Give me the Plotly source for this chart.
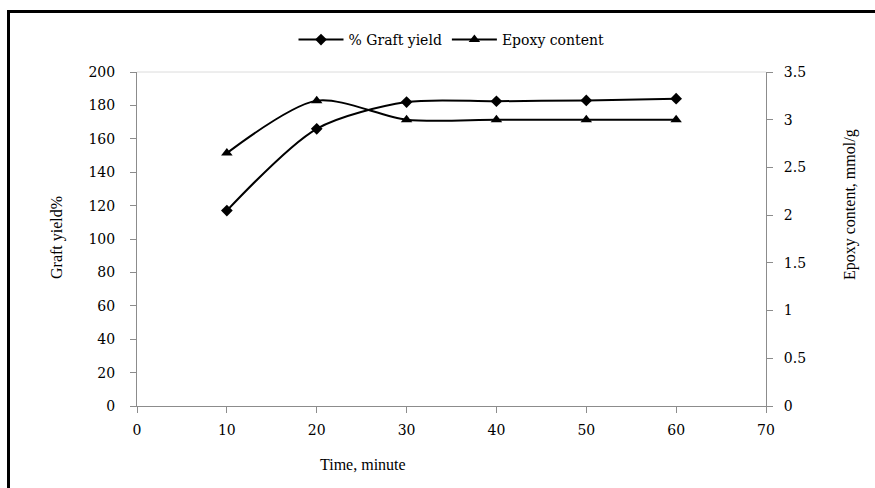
import plotly.graph_objects as go

# Reaction time (minutes) and measured responses
time_min = [10, 20, 30, 40, 50, 60]
graft_yield = [117, 166, 182, 182.5, 183, 184]
epoxy_content = [2.65, 3.2, 3.0, 3.0, 3.0, 3.0]

x_ticks = [0, 10, 20, 30, 40, 50, 60, 70]
y1_ticks = [0, 20, 40, 60, 80, 100, 120, 140, 160, 180, 200]
y2_ticks = [0, 0.5, 1, 1.5, 2, 2.5, 3, 3.5]

FONT = "Liberation Serif, Times New Roman, serif"
WIDE_FONT = "DejaVu Serif, serif"
AXIS_GRAY = "#8c8c8c"

# plot area in pixels
L, R, T, B = 137, 766, 72, 406
W, H = R - L, B - T


def px_x(px):
    return (px - L) / W


def px_y(py):
    return (B - py) / H


fig = go.Figure()
fig.add_trace(go.Scatter(
    x=time_min, y=graft_yield, name="% Graft yield",
    mode="lines+markers",
    line=dict(color="black", width=2, shape="spline", smoothing=0.8),
    marker=dict(symbol="diamond", size=9, color="black"),
))
fig.add_trace(go.Scatter(
    x=time_min, y=epoxy_content, name="Epoxy content", yaxis="y2",
    mode="lines+markers",
    line=dict(color="black", width=2, shape="spline", smoothing=0.8),
    marker=dict(symbol="triangle-up", size=10, color="black"),
))

axis_common = dict(
    showline=True, linecolor=AXIS_GRAY, linewidth=1,
    ticks="outside", tickcolor=AXIS_GRAY, ticklen=6,
    showgrid=False, zeroline=False,
    tickfont=dict(family=WIDE_FONT, size=14, color="black"),
)

fig.update_layout(
    width=875, height=488,
    margin=dict(l=L, r=875 - R, t=T, b=488 - B, autoexpand=False),
    paper_bgcolor="white", plot_bgcolor="white",
    font=dict(family=FONT, color="black"),
    showlegend=True,
    legend=dict(
        orientation="h", x=0.5, xanchor="center",
        y=px_y(40), yanchor="middle",
        font=dict(family=WIDE_FONT, size=14),
        bgcolor="rgba(0,0,0,0)", itemwidth=45,
    ),
    xaxis=dict(range=[0, 70], tickvals=x_ticks, ticklabelstandoff=5, **axis_common),
    yaxis=dict(range=[0, 200], tickvals=y1_ticks, ticklabelstandoff=12, **axis_common),
    yaxis2=dict(range=[0, 3.5], tickvals=y2_ticks, overlaying="y", side="right",
                ticklabelstandoff=8, **axis_common),
)

# Axis titles
title_font = dict(family=FONT, size=16)
fig.add_annotation(text="Time, minute", xref="paper", yref="paper",
                   x=px_x(363), y=px_y(465), xanchor="center", yanchor="middle",
                   showarrow=False, font=title_font)
fig.add_annotation(text="Graft yield%", xref="paper", yref="paper",
                   x=px_x(57), y=px_y(238), xanchor="center", yanchor="middle",
                   showarrow=False, textangle=-90, font=title_font)
fig.add_annotation(text="Epoxy content, mmol/g", xref="paper", yref="paper",
                   x=px_x(850), y=px_y(205), xanchor="center", yanchor="middle",
                   showarrow=False, textangle=-90, font=title_font)

# Light top border line of the plot area
fig.add_shape(type="line", xref="paper", yref="paper", x0=0, x1=1, y0=1, y1=1,
              line=dict(color="#dcdcdc", width=1))

# Outer frame: left and top edges
fig.add_shape(type="line", xref="paper", yref="paper",
              x0=px_x(8.5), x1=px_x(8.5), y0=px_y(500), y1=px_y(11.5),
              line=dict(color="black", width=3))
fig.add_shape(type="line", xref="paper", yref="paper",
              x0=px_x(7), x1=px_x(900), y0=px_y(11.5), y1=px_y(11.5),
              line=dict(color="black", width=3))

fig.write_html("out.html")
